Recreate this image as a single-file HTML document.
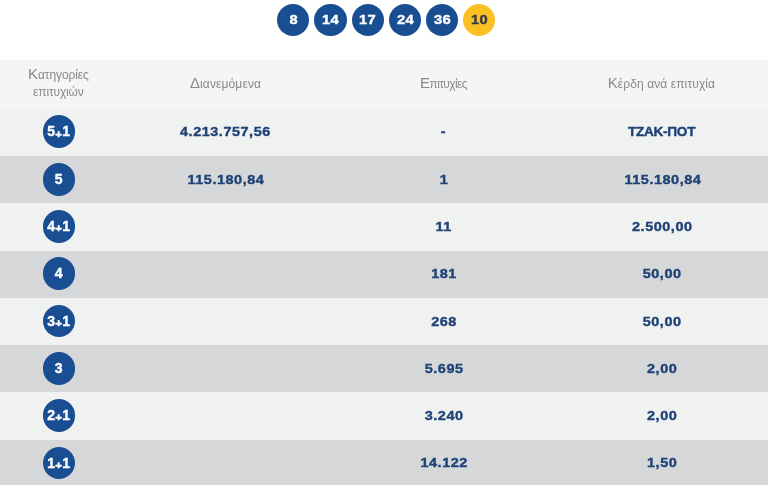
<!DOCTYPE html>
<html lang="el">
<head>
<meta charset="utf-8">
<title>Αποτελέσματα κλήρωσης</title>
<style>
html,body{margin:0;padding:0;background:#fff;}
body{width:768px;height:485px;overflow:hidden;position:relative;font-family:"Liberation Sans",sans-serif;}
.ball{position:absolute;top:3.70px;width:32.4px;height:32.4px;border-radius:50%;background:#194e92;color:#fff;font-weight:bold;font-size:13px;line-height:32.8px;text-align:center;letter-spacing:0.3px;-webkit-text-stroke:0.4px #fff;}
.ball span{display:inline-block;transform:scaleX(1.13);position:relative;left:0.3px;}
.ball.y{background:#fbc022;color:#353b47;-webkit-text-stroke:0.4px #353b47;}
.row{position:absolute;left:0;width:768px;}
.hdr{background:#f5f5f5;}
.lt{background:#f0f1f1;}
.dk{background:#d5d7d9;}
.c{position:absolute;top:0;height:100%;display:flex;align-items:center;justify-content:center;text-align:center;white-space:nowrap;}
.c1{left:0;width:117.6px;}
.c2{left:117.5px;width:216px;}
.c3{left:334.5px;width:218px;}
.c4{left:553.3px;width:218px;}
.row .c{padding-bottom:1px;box-sizing:border-box;color:#1e4276;font-weight:bold;font-size:13.5px;letter-spacing:0.5px;-webkit-text-stroke:0.4px #1e4276;}
.row .c .t{text-decoration:none;letter-spacing:-0.3px;font-size:13.6px;position:relative;left:-0.7px;}
.row .c .n{text-decoration:none;display:inline-block;transform:scaleX(1.07);position:relative;left:0.3px;}
.hdr .c{padding-bottom:0;color:#88888d;font-weight:normal;font-size:12px;letter-spacing:0;line-height:17px;-webkit-text-stroke:0;}
.hdr .c .cap{font-size:15px;line-height:10px;}
.cb{width:32.6px;height:32.6px;border-radius:50%;background:#194e92;color:#fff;font-weight:bold;font-size:14px;line-height:32px;text-align:center;letter-spacing:0.2px;-webkit-text-stroke:0.4px #fff;}
.cb .p{font-size:11.5px;position:relative;top:1.2px;}
</style>
</head>
<body>
<div class="ball" style="left:277.10px"><span>8</span></div>
<div class="ball" style="left:314.40px"><span>14</span></div>
<div class="ball" style="left:351.50px"><span>17</span></div>
<div class="ball" style="left:388.70px"><span>24</span></div>
<div class="ball" style="left:425.90px"><span>36</span></div>
<div class="ball y" style="left:463.10px"><span>10</span></div>
<div class="row hdr" style="top:59.9px;height:49.5px"><div class="c c1" style="height:48.5px"><span style="position:relative;left:-0.4px"><span style="letter-spacing:-0.1px"><span class="cap">Κ</span>ατηγορίες</span><br><span style="letter-spacing:-0.15px">επιτυχιών</span></span></div><div class="c c2" style="height:48.5px"><span style="letter-spacing:0.13px"><span class="cap">Δ</span>ιανεμόμενα</span></div><div class="c c3" style="height:48.5px"><span style="letter-spacing:-0.62px"><span class="cap">Ε</span>πιτυχίες</span></div><div class="c c4" style="height:48.5px"><span style="letter-spacing:0.1px;position:relative;left:-0.9px"><span class="cap">Κ</span>έρδη ανά επιτυχία</span></div></div>
<div class="row lt" style="top:108.40px;height:48.80px"><div class="c c1" style="height:47.80px"><div class="cb">5<span class="p">+</span>1</div></div><div class="c c2" style="height:47.80px"><span class="n">4.213.757,56</span></div><div class="c c3" style="height:47.80px"><span class="n">-</span></div><div class="c c4" style="height:47.80px"><span class="t">ΤΖΑΚ-ΠΟΤ</span></div></div>
<div class="row dk" style="top:156.20px;height:48.24px"><div class="c c1" style="height:47.24px"><div class="cb">5</div></div><div class="c c2" style="height:47.24px"><span class="n">115.180,84</span></div><div class="c c3" style="height:47.24px"><span class="n">1</span></div><div class="c c4" style="height:47.24px"><span class="n">115.180,84</span></div></div>
<div class="row lt" style="top:203.44px;height:48.24px"><div class="c c1" style="height:47.24px"><div class="cb">4<span class="p">+</span>1</div></div><div class="c c2" style="height:47.24px"><span class="n"></span></div><div class="c c3" style="height:47.24px"><span class="n">11</span></div><div class="c c4" style="height:47.24px"><span class="n">2.500,00</span></div></div>
<div class="row dk" style="top:250.68px;height:48.24px"><div class="c c1" style="height:47.24px"><div class="cb">4</div></div><div class="c c2" style="height:47.24px"><span class="n"></span></div><div class="c c3" style="height:47.24px"><span class="n">181</span></div><div class="c c4" style="height:47.24px"><span class="n">50,00</span></div></div>
<div class="row lt" style="top:297.92px;height:48.24px"><div class="c c1" style="height:47.24px"><div class="cb">3<span class="p">+</span>1</div></div><div class="c c2" style="height:47.24px"><span class="n"></span></div><div class="c c3" style="height:47.24px"><span class="n">268</span></div><div class="c c4" style="height:47.24px"><span class="n">50,00</span></div></div>
<div class="row dk" style="top:345.16px;height:48.24px"><div class="c c1" style="height:47.24px"><div class="cb">3</div></div><div class="c c2" style="height:47.24px"><span class="n"></span></div><div class="c c3" style="height:47.24px"><span class="n">5.695</span></div><div class="c c4" style="height:47.24px"><span class="n">2,00</span></div></div>
<div class="row lt" style="top:392.40px;height:48.24px"><div class="c c1" style="height:47.24px"><div class="cb">2<span class="p">+</span>1</div></div><div class="c c2" style="height:47.24px"><span class="n"></span></div><div class="c c3" style="height:47.24px"><span class="n">3.240</span></div><div class="c c4" style="height:47.24px"><span class="n">2,00</span></div></div>
<div class="row dk" style="top:439.64px;height:48.36px"><div class="c c1" style="height:47.36px"><div class="cb">1<span class="p">+</span>1</div></div><div class="c c2" style="height:47.36px"><span class="n"></span></div><div class="c c3" style="height:47.36px"><span class="n">14.122</span></div><div class="c c4" style="height:47.36px"><span class="n">1,50</span></div></div>
</body>
</html>
